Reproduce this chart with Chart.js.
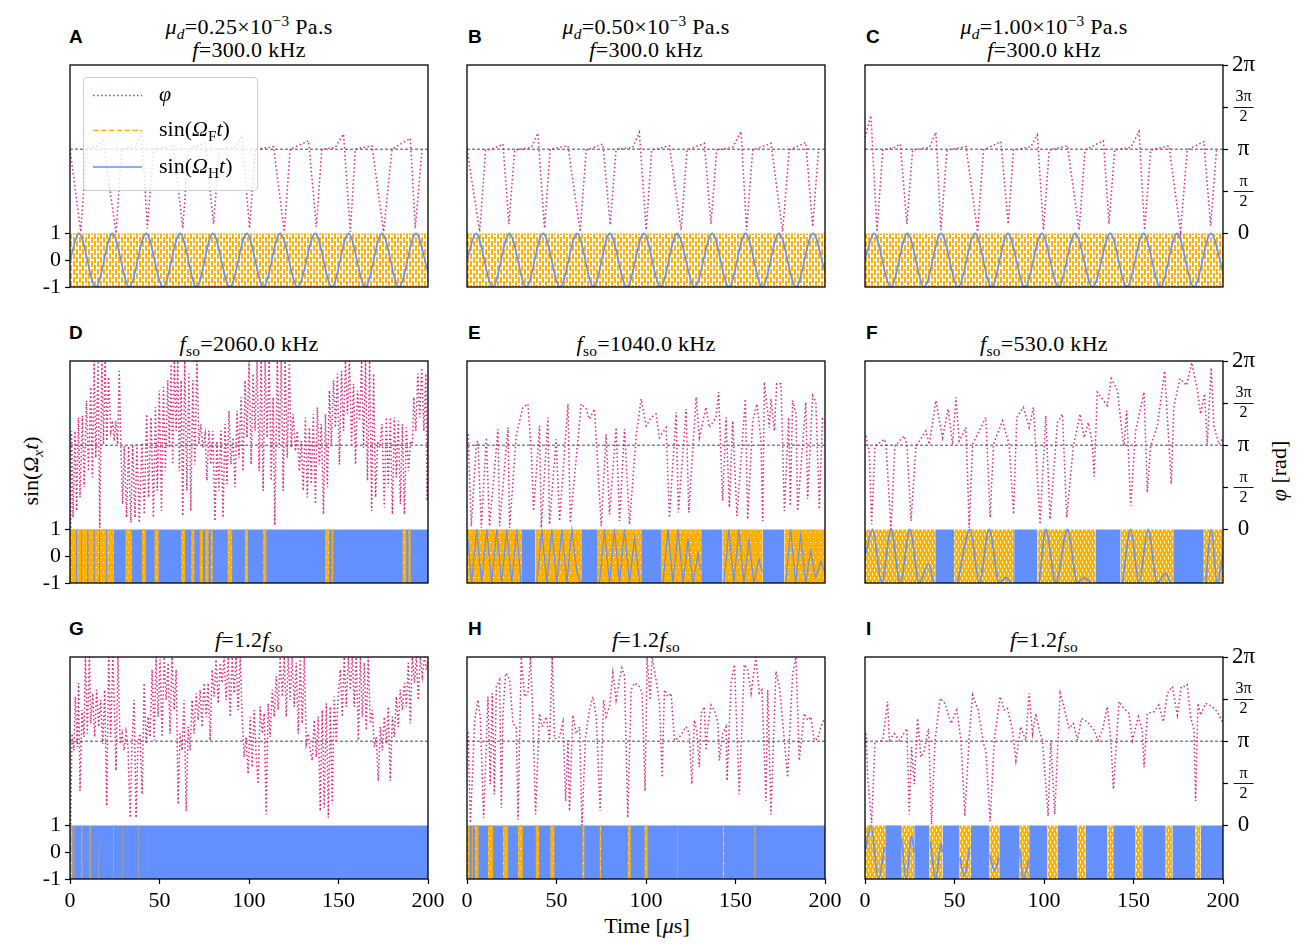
<!DOCTYPE html>
<html>
<head>
<meta charset="utf-8">
<script src="https://cdn.jsdelivr.net/npm/chart.js@4.4.1/dist/chart.umd.min.js"></script>
<style>
  body { margin: 0; background: #fff; width: 1301px; height: 944px; position: relative; overflow: hidden;
         font-family: 'Liberation Serif', serif; color: #000; }
  canvas { position: absolute; }
  .ttl { position: absolute; width: 340px; text-align: center; font-size: 22px; line-height: 23px; white-space: nowrap; letter-spacing: 0.3px; }
  .let { position: absolute; font-family: 'Liberation Sans', Arial, sans-serif; font-weight: bold; font-size: 19px; line-height: 19px; }
  .lab { position: absolute; font-size: 22px; line-height: 26px; white-space: nowrap; }
  sub, sup { font-size: 70%; line-height: 0; }
  sup { vertical-align: 0.55em; }
  sub { vertical-align: -0.3em; }
  #legend { position: absolute; left: 83px; top: 77px; width: 173px; height: 112px; border: 1px solid #ccc;
            border-radius: 4px; background: rgba(255,255,255,0.8); z-index: 5; }
  #legend svg { position: absolute; left: 8px; top: 0; }
  #legend .lt { position: absolute; left: 75px; font-size: 22px; line-height: 26px; white-space: nowrap; }
</style>
</head>
<body>

<div class="let" style="left:69px;top:27px">A</div>
<div class="let" style="left:468px;top:27px">B</div>
<div class="let" style="left:866px;top:27px">C</div>
<div class="let" style="left:69px;top:323px">D</div>
<div class="let" style="left:468px;top:323px">E</div>
<div class="let" style="left:866px;top:323px">F</div>
<div class="let" style="left:69px;top:619px">G</div>
<div class="let" style="left:468px;top:619px">H</div>
<div class="let" style="left:866px;top:619px">I</div>

<div class="ttl" style="left:79px;top:15px"><i>μ</i><sub><i>d</i></sub>=0.25×10<sup>−3</sup> Pa.s<br><i>f</i>=300.0 kHz</div>
<div class="ttl" style="left:476px;top:15px"><i>μ</i><sub><i>d</i></sub>=0.50×10<sup>−3</sup> Pa.s<br><i>f</i>=300.0 kHz</div>
<div class="ttl" style="left:874px;top:15px"><i>μ</i><sub><i>d</i></sub>=1.00×10<sup>−3</sup> Pa.s<br><i>f</i>=300.0 kHz</div>
<div class="ttl" style="left:79px;top:332px"><i>f</i><sub>so</sub>=2060.0 kHz</div>
<div class="ttl" style="left:476px;top:332px"><i>f</i><sub>so</sub>=1040.0 kHz</div>
<div class="ttl" style="left:874px;top:332px"><i>f</i><sub>so</sub>=530.0 kHz</div>
<div class="ttl" style="left:79px;top:628px"><i>f</i>=1.2<i>f</i><sub>so</sub></div>
<div class="ttl" style="left:476px;top:628px"><i>f</i>=1.2<i>f</i><sub>so</sub></div>
<div class="ttl" style="left:874px;top:628px"><i>f</i>=1.2<i>f</i><sub>so</sub></div>

<div class="lab" style="left:31px;top:471px;transform:translate(-50%,-50%) rotate(-90deg)">sin(<i>Ω</i><sub><i>x</i></sub><i>t</i>)</div>
<div class="lab" style="left:1279px;top:471px;transform:translate(-50%,-50%) rotate(-90deg)"><i>φ</i> [rad]</div>
<div class="lab" style="left:647px;top:913px;transform:translateX(-50%)">Time [<i>μ</i>s]</div>

<div id="legend">
  <svg width="60" height="112">
    <line x1="1" y1="17.5" x2="50" y2="17.5" stroke="#DC267F" stroke-width="1.5" stroke-dasharray="1.5 2.5"/>
    <line x1="1" y1="52.5" x2="50" y2="52.5" stroke="#FFB000" stroke-width="1.5" stroke-dasharray="5.5 2.4"/>
    <line x1="1" y1="89" x2="50" y2="89" stroke="#648FFF" stroke-width="1.5"/>
  </svg>
  <div class="lt" style="top:3px"><i>φ</i></div>
  <div class="lt" style="top:38px">sin(<i>Ω</i><sub>F</sub><i>t</i>)</div>
  <div class="lt" style="top:75px">sin(<i>Ω</i><sub>H</sub><i>t</i>)</div>
</div>

<script>
// ---------- data (time in µs, phase φ in units of π) ----------
const timeTicks = [0, 50, 100, 150, 200];
const sinTicks = [-1, 0, 1];
const phiTicks = [0, 0.5, 1, 1.5, 2];
const phiTickLabels = ['0', ['π', '2'], 'π', ['3π', '2'], '2π'];
const piLine = [[0, 1], [200, 1]];

// φ(t)
const phiA = [[0,1.0],[6.0,0.02],[9.3,1.0],[14.9,1.04],[18.6,1.1],[25.7,0.0],[28.9,1.0],[36.3,1.02],[40.1,1.2],[43.2,0.06],[46.6,1.0],[57.8,1.04],[63.0,0.06],[66.2,1.0],[75.5,1.07],[80.2,0.11],[83.5,1.0],[92.3,1.02],[96.0,1.16],[100.3,0.06],[103.5,1.0],[113.7,1.03],[119.7,0.02],[123.0,1.0],[133.3,1.1],[137.6,0.08],[140.7,1.0],[148.2,1.02],[152.8,1.18],[156.6,0.02],[159.4,1.0],[168.7,1.04],[175.2,0.02],[179.9,1.0],[190.1,1.13],[192.9,0.06],[196.7,1.0]];
const phiB = [[0,1.0],[7.1,0.02],[10.4,0.99],[13.6,1.0],[18.2,1.04],[20.1,1.06],[23.4,0.11],[26.6,0.99],[35.9,1.02],[39.6,1.19],[43.3,0.06],[46.5,1.0],[56.4,1.04],[63.2,0.02],[66.6,0.99],[75.9,1.06],[80.0,0.1],[83.3,1.0],[92.6,1.02],[96.3,1.2],[100.1,0.04],[103.2,0.99],[113.1,1.04],[119.6,0.04],[122.9,0.99],[132.6,1.07],[136.3,0.11],[139.5,0.99],[148.4,1.02],[153.1,1.21],[156.2,0.04],[159.6,0.99],[169.8,1.07],[176.3,0.02],[180.0,0.99],[189.3,1.08],[193.1,0.08],[196.4,1.0]];
const phiC = [[0,1.14],[3.3,1.4],[6.7,0.02],[9.9,0.99],[16.4,1.02],[19.7,1.06],[23.4,0.11],[26.6,0.99],[35.9,1.02],[39.6,1.2],[42.4,0.04],[45.8,0.99],[56.4,1.03],[62.9,0.02],[66.2,0.99],[75.9,1.09],[80.0,0.11],[83.0,0.99],[92.6,1.03],[96.3,1.17],[99.7,0.04],[102.9,0.99],[113.1,1.04],[119.6,0.04],[122.9,0.99],[133.2,1.1],[136.3,0.11],[139.5,0.99],[148.4,1.02],[153.1,1.21],[156.2,0.04],[159.6,0.99],[169.8,1.04],[176.3,0.02],[180.0,0.99],[189.3,1.09],[193.1,0.09],[196.4,1.0]];
const phiD = [[0.4,0.02],[0.9,1.17],[1.7,0.14],[2.8,1.17],[3.7,0.22],[4.7,1.33],[5.6,0.38],[6.9,1.35],[7.9,0.5],[9.2,1.53],[10.3,0.69],[11.6,1.69],[12.5,0.62],[13.5,2.0],[14.4,0.85],[15.7,2.0],[16.6,0.02],[17.8,2.0],[18.7,1.01],[19.6,2.0],[20.6,1.05],[21.5,1.81],[22.8,1.17],[23.7,1.29],[24.7,1.05],[25.6,1.29],[26.6,1.01],[27.5,1.88],[28.4,1.01],[29.4,0.3],[30.3,0.99],[31.6,0.14],[32.7,0.99],[34.0,0.08],[35.0,1.01],[36.3,0.14],[37.4,1.01],[38.7,0.08],[40.2,1.03],[41.5,0.18],[42.8,1.37],[43.9,0.38],[45.3,1.33],[46.6,0.14],[47.7,1.45],[48.8,0.46],[49.9,1.65],[51.1,0.22],[52.2,1.69],[53.3,0.69],[54.6,1.77],[55.5,0.97],[56.5,1.96],[57.4,0.77],[58.3,2.0],[59.3,1.17],[60.2,2.0],[61.1,0.69],[62.1,1.77],[63.0,0.16],[64.1,2.0],[65.3,0.46],[66.4,1.85],[67.5,0.22],[68.6,1.77],[69.8,0.77],[70.9,2.0],[72.0,1.01],[73.1,1.25],[74.2,0.97],[75.5,1.13],[76.5,0.58],[77.6,1.17],[78.7,0.77],[79.8,1.17],[81.0,0.1],[82.1,1.05],[83.2,0.46],[84.3,1.17],[85.5,0.14],[86.6,1.25],[87.7,0.54],[88.8,1.41],[89.9,0.77],[91.1,1.09],[92.2,0.5],[93.3,1.41],[94.4,0.85],[95.6,1.57],[96.7,0.69],[97.8,1.77],[98.9,1.09],[100.0,2.0],[101.2,0.77],[102.3,1.85],[103.4,1.17],[104.5,2.0],[105.7,0.69],[106.8,2.0],[107.9,0.46],[109.0,2.0],[110.1,1.09],[111.3,2.0],[112.4,0.58],[113.5,1.57],[114.4,0.05],[115.8,2.0],[116.9,0.97],[118.0,2.0],[119.1,0.46],[120.2,2.0],[121.4,0.85],[122.5,2.0],[123.6,0.97],[124.7,1.37],[125.9,0.93],[127.0,1.17],[128.1,0.69],[129.2,1.05],[130.3,0.46],[131.5,1.33],[132.6,0.38],[133.7,1.21],[134.8,0.54],[135.9,1.37],[137.1,0.3],[138.2,1.45],[139.3,0.77],[140.4,1.25],[141.6,0.18],[142.7,1.37],[143.8,0.5],[144.9,1.65],[146.0,1.01],[147.2,1.77],[148.3,1.21],[149.4,1.85],[150.5,0.77],[151.7,1.88],[152.8,1.17],[153.9,2.0],[155.0,1.37],[156.1,2.0],[157.3,1.01],[158.4,1.73],[159.5,0.77],[160.6,1.65],[161.8,1.29],[162.9,2.0],[164.0,0.97],[165.1,2.0],[166.2,0.58],[167.4,2.0],[168.5,0.22],[169.6,1.85],[170.7,0.38],[171.9,1.05],[173.0,0.97],[174.3,1.25],[175.6,0.26],[176.7,1.33],[177.8,0.5],[179.0,1.33],[180.1,0.18],[181.2,1.33],[182.3,0.62],[183.4,1.29],[184.6,0.3],[185.7,1.25],[186.8,0.18],[187.9,1.21],[189.1,0.69],[190.2,1.05],[191.3,1.01],[192.0,1.57],[193.2,1.17],[194.3,1.85],[195.4,1.33],[196.5,1.92],[197.7,1.17],[198.8,1.85],[199.5,0.34],[200,1.05]];
const phiE = [[0.6,1.13],[2.4,0.04],[5.2,1.03],[6.1,1.05],[8.0,0.02],[10.8,1.09],[12.6,0.04],[17.3,1.19],[18.2,0.04],[22.9,1.21],[23.8,0.02],[27.5,1.11],[31.2,1.45],[34.0,1.49],[35.9,0.95],[37.2,0.22],[40.5,1.23],[41.5,0.02],[45.2,1.33],[46.1,0.06],[49.8,1.07],[51.7,0.1],[56.4,1.49],[57.7,0.08],[61.9,1.05],[63.8,1.49],[66.6,1.43],[68.4,1.31],[71.2,1.43],[72.2,1.07],[75.0,0.04],[77.7,1.13],[79.6,0.18],[83.3,1.21],[85.2,0.1],[88.0,1.19],[90.8,0.06],[94.5,1.11],[97.3,1.55],[100.1,1.23],[102.9,1.33],[105.6,1.37],[107.5,1.09],[111.2,1.21],[113.1,0.14],[116.8,1.39],[118.1,0.2],[122.4,1.43],[123.9,0.2],[128.0,1.57],[129.8,1.09],[133.5,1.45],[135.4,1.21],[139.1,1.33],[140.6,1.63],[142.8,0.34],[144.7,1.33],[146.6,0.26],[148.4,1.29],[150.8,0.16],[155.5,1.55],[156.8,0.12],[159.6,1.29],[162.0,1.49],[164.2,1.07],[165.2,0.1],[166.1,1.75],[168.9,1.21],[169.8,1.55],[171.7,1.17],[173.0,1.73],[175.4,1.73],[177.3,0.22],[179.7,1.33],[180.6,0.28],[181.9,1.53],[183.8,1.37],[184.7,0.22],[189.3,1.51],[190.3,0.36],[193.1,1.59],[194.9,1.51],[196.8,0.24],[198.6,1.31],[200,1.27]];
const phiF = [[0.6,1.11],[2.4,0.91],[3.7,0.06],[5.6,0.99],[10.8,1.07],[11.7,1.02],[14.5,0.0],[16.7,0.99],[21.9,1.11],[23.4,1.01],[25.7,0.1],[28.5,0.99],[34.0,1.17],[35.9,1.01],[39.6,1.53],[43.3,1.09],[46.5,1.43],[48.9,1.01],[50.8,1.57],[52.6,1.05],[56.4,1.21],[58.2,0.02],[60.1,1.01],[67.5,1.33],[69.9,0.14],[71.8,1.01],[76.8,1.29],[80.5,1.01],[83.0,0.18],[84.8,1.33],[88.5,1.45],[91.7,1.21],[94.1,1.45],[97.8,0.06],[101.0,1.35],[103.4,0.12],[107.5,1.27],[110.3,1.37],[112.7,0.14],[116.4,0.99],[120.2,1.37],[122.4,1.09],[124.8,1.27],[127.0,1.01],[128.0,0.63],[129.8,1.63],[135.4,1.47],[137.6,1.79],[141.0,1.65],[143.8,1.11],[144.7,0.99],[146.2,1.41],[148.4,0.28],[151.2,1.17],[155.9,1.63],[157.7,0.44],[159.6,0.99],[163.3,1.23],[167.4,1.88],[171.1,0.54],[172.6,1.47],[176.0,1.79],[179.7,1.71],[182.5,1.98],[185.6,1.67],[187.5,1.37],[189.7,1.61],[191.2,1.01],[193.4,1.92],[194.9,1.23],[197.7,1.01],[199.6,1.07]];
const phiG = [[0.4,0.01],[1.1,1.09],[2.2,0.89],[3.0,1.53],[4.1,0.93],[4.8,1.69],[5.6,0.41],[6.7,1.37],[7.8,1.05],[8.6,2.0],[9.7,1.09],[10.8,2.0],[11.6,1.21],[12.7,1.57],[13.8,1.05],[14.9,1.61],[16.0,1.17],[17.1,1.49],[18.3,0.97],[19.4,1.61],[20.5,0.23],[21.6,2.0],[22.7,1.05],[23.9,2.0],[25.0,1.29],[25.7,0.65],[26.8,2.0],[28.0,0.97],[29.1,1.09],[30.2,0.89],[31.3,1.11],[32.4,0.93],[33.6,0.09],[34.7,1.01],[35.8,1.49],[36.9,0.09],[38.0,0.97],[39.1,1.09],[40.3,0.37],[41.4,1.69],[42.5,0.97],[43.6,1.29],[44.7,1.05],[45.9,1.85],[47.0,1.01],[48.1,2.0],[49.2,1.29],[50.3,1.97],[51.4,1.05],[52.6,2.0],[53.7,1.49],[54.8,1.93],[55.9,1.09],[57.0,2.0],[58.2,1.37],[59.3,1.85],[60.4,0.25],[61.5,1.09],[62.6,0.89],[63.7,1.49],[64.9,0.17],[66.0,1.17],[67.1,0.89],[68.2,1.49],[69.3,1.09],[70.5,1.57],[71.6,1.25],[72.7,1.61],[73.8,1.17],[74.9,1.69],[76.1,1.29],[77.2,1.69],[78.3,1.01],[79.4,1.85],[80.5,1.53],[81.6,1.97],[82.8,1.45],[83.9,1.93],[85.0,1.69],[86.1,2.0],[87.2,1.49],[88.4,2.0],[89.5,1.29],[90.6,2.0],[91.7,1.57],[92.8,2.0],[93.9,1.37],[95.1,2.0],[96.2,1.29],[97.3,0.81],[98.4,1.05],[99.5,0.61],[100.7,1.29],[101.8,0.69],[102.9,1.37],[104.0,0.81],[105.1,0.49],[106.2,1.41],[107.4,1.09],[108.5,1.33],[109.6,0.13],[110.7,1.45],[111.8,1.05],[113.0,1.61],[114.1,1.29],[115.2,1.77],[116.3,1.37],[117.4,2.0],[118.6,1.53],[119.7,2.0],[120.8,1.29],[121.9,2.0],[123.0,1.49],[124.1,2.0],[125.3,1.41],[126.4,1.93],[127.5,1.09],[128.6,2.0],[129.7,1.21],[130.9,2.0],[132.0,0.97],[133.1,1.09],[134.2,0.89],[135.3,0.77],[136.4,1.25],[137.6,0.81],[138.7,1.29],[139.8,0.17],[140.9,1.37],[142.0,0.21],[143.2,1.45],[144.3,0.09],[145.4,1.41],[146.5,0.25],[147.6,1.53],[148.7,1.01],[149.9,1.57],[151.0,1.85],[152.1,1.29],[153.2,2.0],[154.3,1.41],[155.5,2.0],[156.6,1.61],[157.7,2.0],[158.8,1.41],[159.9,2.0],[161.1,1.01],[162.2,2.0],[163.3,1.29],[164.4,1.93],[165.5,1.13],[166.6,2.0],[167.8,1.21],[168.9,1.37],[170.0,0.93],[171.1,1.05],[172.2,0.53],[173.4,1.17],[174.5,0.89],[175.6,1.29],[176.7,0.97],[177.8,1.41],[178.9,0.53],[180.1,1.29],[181.2,1.05],[182.3,1.53],[183.4,1.17],[184.5,1.61],[185.7,1.37],[186.8,1.69],[187.9,1.41],[189.0,1.93],[190.1,1.21],[191.2,2.0],[192.4,1.69],[193.5,2.0],[194.6,1.49],[195.7,2.0],[196.8,1.77],[198.0,2.0],[199.1,1.85],[200,1.97]];
const phiH = [[0.6,1.11],[1.9,0.03],[4.3,1.25],[6.1,1.49],[7.4,1.29],[9.3,0.09],[11.7,1.53],[13.0,0.49],[14.1,1.57],[15.3,0.37],[16.4,1.65],[18.2,1.73],[19.2,0.21],[20.1,1.33],[21.6,1.81],[23.8,1.73],[25.7,1.21],[27.5,1.17],[28.5,0.07],[30.3,2.0],[32.2,1.53],[34.0,1.57],[35.5,2.0],[36.8,1.29],[38.3,0.13],[40.5,1.33],[42.0,1.17],[44.3,1.29],[46.1,1.01],[47.6,2.0],[48.9,1.03],[51.7,1.05],[53.6,1.23],[55.1,0.29],[56.4,1.01],[57.3,0.17],[59.1,1.31],[61.0,1.09],[62.9,1.17],[64.2,0.0],[66.2,1.05],[68.4,1.37],[70.3,1.53],[72.2,1.29],[74.4,0.17],[76.3,1.49],[77.7,1.29],[79.6,1.41],[81.5,1.81],[83.3,1.49],[85.2,1.73],[86.5,1.87],[88.0,1.77],[89.8,0.09],[91.7,1.61],[93.6,1.69],[96.3,1.65],[97.8,1.57],[99.5,0.41],[100.6,2.0],[102.3,1.49],[103.4,2.0],[105.6,1.73],[107.5,1.45],[109.0,0.57],[110.3,1.61],[112.2,1.53],[114.0,1.57],[115.9,1.01],[118.7,1.05],[122.4,1.17],[124.2,1.09],[125.6,0.49],[127.0,1.25],[128.3,1.13],[129.8,0.69],[130.8,1.33],[132.6,1.41],[133.5,0.89],[134.5,1.17],[136.3,1.43],[138.2,1.37],[140.1,1.23],[141.0,0.77],[142.8,1.09],[144.7,1.17],[145.3,0.53],[147.5,1.69],[149.4,1.91],[152.1,0.37],[154.9,1.91],[156.8,1.85],[158.7,1.57],[161.4,2.0],[163.3,1.57],[164.8,1.61],[167.0,0.29],[168.0,1.61],[169.8,0.13],[172.6,1.83],[174.5,1.65],[177.3,1.01],[179.1,0.57],[181.9,1.79],[183.8,2.0],[185.6,0.77],[188.4,1.33],[190.3,1.25],[192.1,1.29],[194.0,1.01],[195.9,1.03],[197.7,1.17],[199.6,1.27]];
const phiI = [[0.6,1.09],[1.5,0.57],[3.7,0.03],[5.6,0.99],[9.9,1.01],[12.6,1.47],[13.6,1.01],[16.4,1.09],[19.2,1.01],[23.4,1.15],[24.7,0.13],[26.0,0.93],[27.5,0.49],[29.4,1.27],[31.2,0.81],[33.1,0.89],[35.5,1.15],[37.2,0.01],[39.1,1.01],[42.0,1.51],[44.6,1.45],[48.0,1.21],[51.3,1.37],[53.6,1.01],[55.8,0.11],[58.2,1.05],[60.1,1.55],[63.2,1.37],[66.2,0.97],[67.5,0.89],[69.9,0.05],[72.2,1.01],[75.5,1.53],[77.7,1.37],[79.6,1.39],[82.4,1.13],[84.3,0.77],[87.0,1.17],[89.8,1.01],[91.7,1.57],[93.6,1.09],[95.4,1.33],[97.3,1.13],[99.1,1.01],[102.3,0.11],[103.8,1.01],[104.7,0.65],[106.0,0.13],[109.0,1.57],[110.9,1.43],[114.0,1.15],[116.4,1.21],[118.7,1.01],[120.9,1.27],[124.2,1.23],[128.0,1.13],[130.2,1.01],[132.6,1.13],[135.4,1.41],[137.3,1.01],[138.8,0.43],[141.9,1.47],[144.7,1.39],[147.5,1.33],[149.4,1.01],[152.7,1.29],[154.9,1.13],[155.9,0.69],[157.7,1.33],[161.4,1.35],[164.2,1.43],[166.7,1.23],[168.9,1.57],[171.7,1.65],[174.5,1.31],[176.7,1.65],[179.1,1.65],[180.0,1.67],[181.9,1.29],[183.8,1.13],[184.7,0.29],[186.0,1.45],[187.5,1.31],[190.3,1.45],[194.0,1.41],[196.8,1.35],[199.6,1.23]];

// sin(Ω_H t) extrema (null = hidden under a solid block)
const sinH_ABC = [[0,0],[5.0,1],[14.4,-1],[23.7,1],[33.1,-1],[42.5,1],[52.0,-1],[61.5,1],[70.7,-1],[79.8,1],[89.3,-1],[98.8,1],[108.1,-1],[117.4,1],[127.2,-1],[137.0,1],[146.3,-1],[155.6,1],[165.0,-1],[174.3,1],[183.8,-1],[193.3,1],[200,-0.45]];
const sinH_E = [[0,1],[2.6,-1],[5.4,1],[8.2,-1],[11.0,1],[13.8,-1],[16.6,1],[19.4,-1],[22.2,1],[25.0,-1],[27.8,1],[30.2,-1],[31,null],[39.0,-1],[41.8,1],[44.6,-1],[47.4,1],[50.2,-1],[53.0,1],[55.8,-1],[58.6,1],[61.4,-0.6],[63.5,-1],[64,null],[74.0,-1],[76.8,1],[79.6,-1],[82.4,1],[85.2,-1],[88.0,1],[90.8,-1],[93.6,0.7],[96.5,-1],[97,null],[109.5,-1],[112.3,1],[115.1,-1],[117.9,1],[120.7,-1],[123.5,0.6],[126.3,-1],[129.1,0.1],[130.5,-0.5],[131,null],[143.5,-1],[146.3,1],[149.1,-1],[151.9,1],[154.7,-1],[157.5,0.6],[160.3,-1],[163.1,-0.1],[165.0,-0.6],[166,null],[178.0,-1],[180.8,1],[183.6,-1],[186.4,0.8],[189.2,-1],[192.0,0.2],[194.8,-0.8],[197.6,-0.2],[200,-0.6]];
const sinH_F = [[0,0],[4.3,1],[9.3,-1],[14.5,1],[19.7,-1],[25.1,1],[30.3,-1],[35.5,-0.3],[38.3,-1],[40,null],[51.7,-1],[58.8,1],[63.8,-1],[69.4,1],[75.0,-1],[78.7,-0.8],[81.5,-1],[90,null],[97.3,-1],[101.0,1],[106.6,-1],[113.1,1],[118.7,-1],[122.4,-0.8],[126.1,-1],[135,null],[143.8,-1],[148.4,1],[153.1,-1],[158.1,1],[163.3,-1],[168.0,-0.65],[170.7,-1],[180,null],[190.3,-1],[193.4,1],[196.8,-1],[200,0.1]];
const sinH_I = [[0,0],[3.3,1],[7.5,-1],[11.0,0.2],[12,null],[20.5,0.5],[23.0,-1],[26.0,0.6],[27.5,0],[28,null],[36.5,0.4],[39.5,-1],[42.5,0.3],[43.3,0],[44,null],[53.0,-0.2],[55.5,-0.9],[58.5,0.2],[59,null],[69.8,-0.1],[72.5,-0.7],[74.8,-0.2],[75,null],[86.5,0.1],[88.5,-1],[91.5,-0.3],[92,null]];

// time spans [start, end] where the dense oscillations read as solid colour
const orangeABC = [[0, 200]];
const blueFull = [[0, 200]];
const orangeD = [[0,3.5],[3.9,6.3],[6.7,9.8],[10.2,13.3],[13.7,16.3],[16.7,20.3],[20.7,24.7],[30.9,34.6],[40.2,42.4],[47.1,49.6],[62.1,64.5],[67.7,69.6],[72.4,74.5],[75.5,77.5],[78.5,79.8],[87.9,90.7],[97.6,99.5],[107.9,109.8],[142.5,145],[146,147.2],[185.7,188],[189,190.4]];
const blueE = [[30.3,38.3],[63.8,73.1],[97.3,108.4],[130.8,142.8],[165.2,177.3]];
const orangeE = [[0,30.3],[38.3,63.8],[73.1,97.3],[108.4,130.8],[142.8,165.2],[177.3,200]];
const blueF = [[39.6,49.8],[83.3,96.3],[128.9,142.8],[172.6,189.3],[191.2,192],[194.6,195.7]];
const orangeF = [[0,39.6],[49.8,83.3],[96.3,128.9],[142.8,172.6],[189.3,200]];
const orangeG = [[0.3,1.5],[2.0,2.5],[6.3,7.0],[10.8,11.6],[15.8,16.2],[24.2,24.6],[29,29.4],[38.2,38.6],[42.9,43.2]];
const orangeH = [[0,1.5],[2.5,3.3],[4.3,6.5],[11.7,14.5],[20.1,22.9],[28.5,31.2],[38.3,40.2],[46.5,48.9],[64.4,65.7],[74,75],[89.8,91.5],[99.1,101],[117.5,118],[142.8,143.6],[160.5,161.2]];
const blueI = [[11.7,20.1],[27.5,35.9],[43.3,52.6],[59.1,69.4],[75,86.1],[91.7,101.9],[107.5,118.7],[123.3,135.4],[139.1,151.2],[154.9,168],[171.7,184.7],[187.5,200]];
const orangeI = [[0,11.7],[20.1,27.5],[35.9,43.3],[52.6,59.1],[69.4,75],[86.1,91.7],[101.9,107.5],[118.7,123.3],[135.4,139.1],[151.2,154.9],[168,171.7],[184.7,187.5]];

// ---------- style / layout ----------
const PINK = '#DC267F', ORANGE = '#FFB000', BLUE = '#648FFF';
const SERIF = "'Liberation Serif', serif";
const COLS = [70, 467, 865], ROWS = [65, 361, 657], PW = 358, PH = 222;
const AX_L = 60, AX_R = 70, AX_B = 45, PAD_T = 16;

function tile(w, h, bg, fg, rects) {
  const c = document.createElement('canvas');
  c.width = w; c.height = h;
  const g = c.getContext('2d');
  g.fillStyle = bg; g.fillRect(0, 0, w, h);
  g.fillStyle = fg; rects.forEach(r => g.fillRect(r[0], r[1], r[2], r[3]));
  return g.createPattern(c, 'repeat');
}
const pats = {
  dash: tile(6, 8, '#fff', ORANGE, [[0,0,2,6],[3,4,2,4],[3,0,2,2]]),
  mid: tile(4, 8, ORANGE, '#fff', [[1,0,1,2.5],[3,4,1,2.5]]),
  dense: tile(5, 10, ORANGE, '#fff', [[1,2,1,1],[3,7,1,1]])
};

const panels = [
  { phi: phiA, sinH: sinH_ABC, blue: [], orange: orangeABC, pat: 'dash', col: 0, row: 0 },
  { phi: phiB, sinH: sinH_ABC, blue: [], orange: orangeABC, pat: 'dash', col: 1, row: 0 },
  { phi: phiC, sinH: sinH_ABC, blue: [], orange: orangeABC, pat: 'dash', col: 2, row: 0 },
  { phi: phiD, sinH: null, blue: blueFull, orange: orangeD, pat: 'dense', col: 0, row: 1 },
  { phi: phiE, sinH: sinH_E, blue: blueE, orange: orangeE, pat: 'dense', col: 1, row: 1, zig: true },
  { phi: phiF, sinH: sinH_F, blue: blueF, orange: orangeF, pat: 'mid', col: 2, row: 1 },
  { phi: phiG, sinH: null, blue: blueFull, orange: orangeG, pat: 'dense', col: 0, row: 2 },
  { phi: phiH, sinH: null, blue: blueFull, orange: orangeH, pat: 'dense', col: 1, row: 2 },
  { phi: phiI, sinH: sinH_I, blue: blueI, orange: orangeI, pat: 'mid', col: 2, row: 2 }
];

const pts = arr => arr.map(p => ({ x: p[0], y: p[1] }));

function block(span, fillStyle, order) {
  return {
    data: [{ x: span[0], y: 1 }, { x: span[1], y: 1 }], yAxisID: 'y',
    borderColor: 'rgba(0,0,0,0)', borderWidth: 0, pointRadius: 0,
    backgroundColor: fillStyle, fill: { value: -1 }, order: order
  };
}

function line(arr, axis, color, width, dash, order, smooth) {
  return {
    data: pts(arr), yAxisID: axis, borderColor: color, borderWidth: width, borderDash: dash,
    pointRadius: 0, fill: false, order: order, tension: 0,
    cubicInterpolationMode: smooth ? 'monotone' : 'default'
  };
}

const frame = {
  id: 'frame',
  afterDatasetsDraw(chart) {
    const a = chart.chartArea, c = chart.ctx;
    c.save(); c.strokeStyle = '#000'; c.lineWidth = 1.3;
    c.strokeRect(a.left, a.top, a.right - a.left, a.bottom - a.top);
    c.restore();
  }
};
const fracBar = {
  id: 'fracBar',
  afterDraw(chart) {
    if (!chart.options.plugins.fracBar.on) return;
    const s = chart.scales.y2, c = chart.ctx;
    c.save();
    c.font = '23px ' + SERIF;
    const xc = chart.chartArea.right + 5 + 4 + c.measureText('2π').width / 2;
    c.strokeStyle = '#000'; c.lineWidth = 0.9;
    [0.5, 1.5].forEach(v => {
      const y = Math.round(s.getPixelForValue(v)) + 0.5;
      c.beginPath(); c.moveTo(xc - 10, y); c.lineTo(xc + 10, y); c.stroke();
    });
    c.restore();
  }
};
Chart.register(frame, fracBar);

const noPadV = s => { s.paddingTop = 0; s.paddingBottom = 0; };

panels.forEach(p => {
  const cv = document.createElement('canvas');
  cv.width = PW + AX_L + AX_R; cv.height = PH + AX_B + PAD_T;
  cv.style.left = (COLS[p.col] - AX_L) + 'px';
  cv.style.top = (ROWS[p.row] - PAD_T) + 'px';
  document.body.appendChild(cv);
  const showL = p.col === 0, showR = p.col === 2, showB = p.row === 2;

  const ds = [];
  p.blue.forEach(b => ds.push(block(b, BLUE, 6)));
  p.orange.forEach(b => ds.push(block(b, pats[p.pat], 5)));
  if (p.sinH) ds.push(line(p.sinH, 'y', BLUE, p.zig ? 1.2 : 1.6, [], 3, !p.zig));
  ds.push(line(piLine, 'y2', 'rgba(40,40,40,0.85)', 1, [3, 2], 1));
  ds.push(line(p.phi, 'y2', PINK, 1.5, [1.5, 2.5], 0));

  new Chart(cv, {
    type: 'line',
    data: { datasets: ds },
    options: {
      responsive: false, animation: false, events: [],
      layout: { padding: { top: PAD_T, left: 0, right: 0, bottom: 0 } },
      plugins: { legend: { display: false }, tooltip: { enabled: false }, fracBar: { on: showR } },
      scales: {
        x: {
          type: 'linear', min: 0, max: 200,
          afterBuildTicks: s => { s.ticks = timeTicks.map(v => ({ value: v })); },
          afterFit: s => { s.height = AX_B; s.paddingLeft = 0; s.paddingRight = 0; },
          grid: { drawOnChartArea: false, drawTicks: showB, tickLength: 5, tickColor: '#000', tickWidth: 1.2 },
          border: { display: false },
          ticks: { display: showB, color: '#000', padding: 4, maxRotation: 0, font: { family: SERIF, size: 22 } }
        },
        y: {
          position: 'left', min: -1, max: 1 + 2 * Math.PI,
          afterBuildTicks: s => { s.ticks = sinTicks.map(v => ({ value: v })); },
          afterFit: s => { s.width = AX_L; noPadV(s); },
          grid: { drawOnChartArea: false, drawTicks: showL, tickLength: 5, tickColor: '#000', tickWidth: 1.2 },
          border: { display: false },
          ticks: { display: showL, color: '#000', padding: 4, font: { family: SERIF, size: 22 },
                   callback: v => String(v) }
        },
        y2: {
          position: 'right', min: -2 / Math.PI, max: 2,
          afterBuildTicks: s => { s.ticks = phiTicks.map(v => ({ value: v })); },
          afterFit: s => { s.width = AX_R; noPadV(s); },
          grid: { drawOnChartArea: false, drawTicks: showR, tickLength: 5, tickColor: '#000', tickWidth: 1.2 },
          border: { display: false },
          ticks: {
            display: showR, color: '#000', padding: 4, crossAlign: 'center',
            font: c => ({ family: SERIF, size: (c.tick && (c.tick.value === 0.5 || c.tick.value === 1.5)) ? 16 : 23, lineHeight: 1.25 }),
            callback: (v, i) => phiTickLabels[i]
          }
        }
      }
    }
  });
});
</script>
</body>
</html>
